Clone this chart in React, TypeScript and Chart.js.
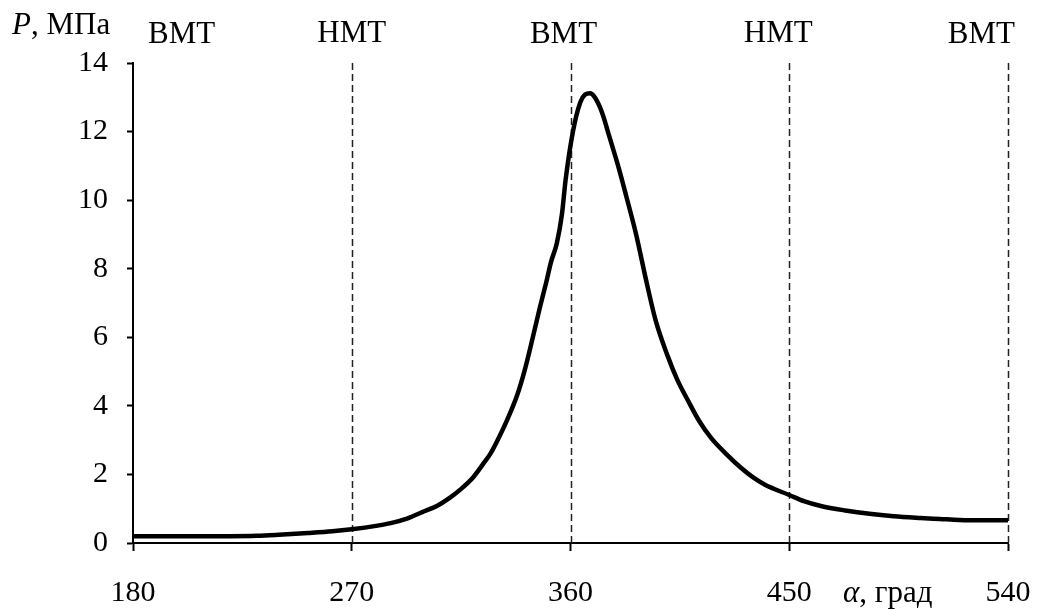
import React, { useEffect, useRef } from "react";
import { Chart, registerables } from "chart.js";

Chart.register(...registerables);

// Crank angle, degrees
const angles = [
  180, 200, 220, 231, 240, 252, 262, 270, 280, 286, 293, 299, 305, 310, 315,
  320, 324, 327, 330, 334, 338, 341, 344.5, 347.5, 350, 352, 354.4, 356.5, 358,
  361, 364, 366, 368, 370, 373, 376, 380, 383, 387, 391, 395, 400, 404, 408,
  413, 418, 424, 430, 435, 440, 450, 456, 463, 473, 483, 493, 504, 512, 520,
  530, 540,
];
// Cylinder pressure, MPa
const pressure = [
  0.2, 0.2, 0.2, 0.21, 0.24, 0.29, 0.34, 0.4, 0.5, 0.58, 0.72, 0.9, 1.08, 1.3,
  1.58, 1.92, 2.3, 2.6, 3.0, 3.6, 4.3, 5.0, 6.0, 6.9, 7.6, 8.2, 8.75, 9.6,
  10.6, 12.0, 12.85, 13.08, 13.12, 13.0, 12.55, 11.85, 10.9, 10.1, 9.0, 7.7,
  6.5, 5.45, 4.75, 4.2, 3.55, 3.05, 2.6, 2.2, 1.92, 1.7, 1.4, 1.22, 1.08, 0.95,
  0.85, 0.78, 0.73, 0.7, 0.67, 0.66, 0.66,
];
// Dead-centre markers
const deadCentreAngles = [180, 270, 360, 450, 540];
const deadCentreLabels = ["ВМТ", "НМТ", "ВМТ", "НМТ", "ВМТ"];
const dashedAngles = [270, 360, 450, 540];
// Axis ticks
const xTicks = [180, 270, 360, 450, 540];
const yTicks = [0, 2, 4, 6, 8, 10, 12, 14];

const SERIF = "'Liberation Serif', 'Times New Roman', serif";

const labelPlugin = {
  id: "dcLabels",
  beforeDatasetsDraw(chart: any) {
    const { ctx, chartArea, scales } = chart;
    ctx.save();
    ctx.strokeStyle = "#222";
    ctx.lineWidth = 1.5;
    ctx.setLineDash([7, 4]);
    dashedAngles.forEach((a) => {
      const x = Math.round(scales.x.getPixelForValue(a)) + 0.5;
      ctx.beginPath();
      ctx.moveTo(x, chartArea.top);
      ctx.lineTo(x, chartArea.bottom);
      ctx.stroke();
    });
    ctx.restore();
  },
  afterDraw(chart: any) {
    const { ctx, scales } = chart;
    ctx.save();
    ctx.fillStyle = "#000";
    ctx.textBaseline = "alphabetic";
    ctx.font = `31px ${SERIF}`;
    deadCentreAngles.forEach((a, i) => {
      const px = scales.x.getPixelForValue(a);
      let align: CanvasTextAlign = "center";
      let x = px;
      if (i === 0) {
        align = "left";
        x = px + 15;
      } else if (i === deadCentreAngles.length - 1) {
        align = "right";
        x = px + 7;
      } else if (i === 2) {
        x = px - 7;
      } else if (i === 3) {
        x = px - 11;
      }
      ctx.textAlign = align;
      ctx.fillText(deadCentreLabels[i], x, i % 2 === 1 ? 42 : 43);
    });

    // y axis title
    ctx.textAlign = "left";
    ctx.font = `italic 31px ${SERIF}`;
    ctx.fillText("P", 12, 34);
    const pw = ctx.measureText("P").width;
    ctx.font = `31px ${SERIF}`;
    ctx.fillText(", МПа", 12 + pw, 34);

    // x axis title
    ctx.font = `italic 31px ${SERIF}`;
    ctx.fillText("α", 843, 602);
    const aw = ctx.measureText("α").width;
    ctx.font = `31px ${SERIF}`;
    ctx.fillText(", град", 843 + aw, 602);
    ctx.restore();
  },
};

export default function App() {
  const ref = useRef<HTMLCanvasElement | null>(null);

  useEffect(() => {
    if (!ref.current) return;
    const chart = new Chart(ref.current, {
      type: "line",
      data: {
        datasets: [
          {
            data: angles.map((a, i) => ({ x: a, y: pressure[i] })),
            borderColor: "#000",
            borderWidth: 4.5,
            pointRadius: 0,
            cubicInterpolationMode: "monotone",
            fill: false,
          },
        ],
      },
      options: {
        responsive: false,
        animation: false,
        devicePixelRatio: 1,
        layout: { padding: { top: 63, right: 34, left: 0, bottom: 0 } },
        plugins: {
          legend: { display: false },
          tooltip: { enabled: false },
        },
        scales: {
          x: {
            type: "linear",
            min: 180,
            max: 540,
            afterBuildTicks: (s: any) => {
              s.ticks = xTicks.map((v) => ({ value: v }));
            },
            afterFit: (s: any) => {
              s.height = 67;
              s.paddingLeft = 0;
              s.paddingRight = 0;
            },
            ticks: {
              color: "#000",
              font: { family: SERIF, size: 30 },
              padding: 24,
              maxRotation: 0,
            },
            grid: {
              drawOnChartArea: false,
              drawTicks: true,
              tickLength: 8,
              tickWidth: 2,
              tickColor: "#000",
            },
            border: { display: true, color: "#000", width: 2 },
          },
          y: {
            type: "linear",
            min: 0,
            max: 14,
            afterBuildTicks: (s: any) => {
              s.ticks = yTicks.map((v) => ({ value: v }));
            },
            afterFit: (s: any) => {
              s.width = 133;
              s.paddingTop = 0;
              s.paddingBottom = 0;
            },
            ticks: {
              color: "#000",
              font: { family: SERIF, size: 30 },
              padding: 19,
            },
            grid: {
              drawOnChartArea: false,
              drawTicks: true,
              tickLength: 6,
              tickWidth: 2,
              tickColor: "#000",
            },
            border: { display: true, color: "#000", width: 2 },
          },
        },
      },
      plugins: [labelPlugin],
    });
    return () => chart.destroy();
  }, []);

  return (
    <div
      style={{
        position: "absolute",
        left: 0,
        top: 0,
        width: 1042,
        height: 610,
        background: "#fff",
      }}
    >
      <canvas ref={ref} width={1042} height={610} />
    </div>
  );
}
